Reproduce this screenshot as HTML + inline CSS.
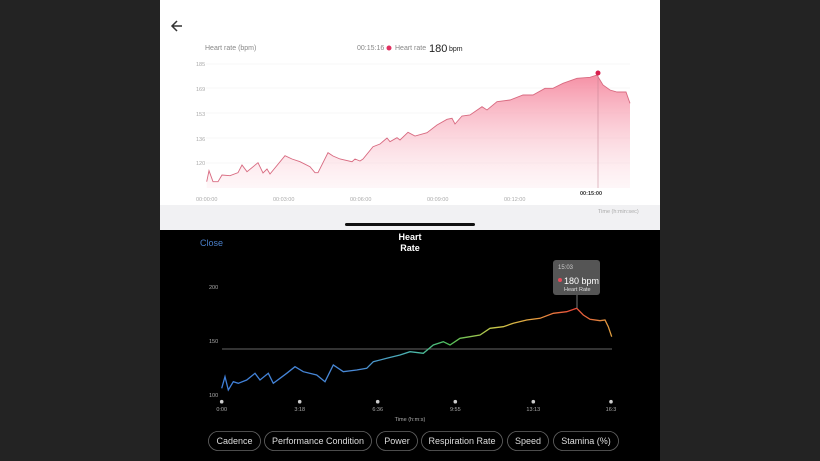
<!DOCTYPE html>
<html><head><meta charset="utf-8"><style>
html,body{margin:0;padding:0;background:#222;}
svg{display:block;font-family:"Liberation Sans",sans-serif;}
</style></head><body>
<svg width="820" height="461" viewBox="0 0 820 461" xmlns="http://www.w3.org/2000/svg">
<defs>
<linearGradient id="fillg" x1="0" y1="0" x2="0" y2="1">
<stop offset="0" stop-color="#f58aa0" stop-opacity="0.95"/>
<stop offset="1" stop-color="#fde3e8" stop-opacity="0.3"/>
</linearGradient>
<linearGradient id="lineg" gradientUnits="userSpaceOnUse" x1="222" y1="0" x2="612" y2="0">
<stop offset="0" stop-color="#3f7fd8"/>
<stop offset="0.35" stop-color="#4a8ad6"/>
<stop offset="0.5" stop-color="#4bb9a8"/>
<stop offset="0.58" stop-color="#4fbf5a"/>
<stop offset="0.7" stop-color="#c8c84a"/>
<stop offset="0.8" stop-color="#e8a040"/>
<stop offset="0.9" stop-color="#e84a3a"/>
<stop offset="1" stop-color="#e0a040"/>
</linearGradient>
</defs>
<rect width="820" height="461" fill="#232323"/>
<!-- top white panel -->
<rect x="160" y="0" width="500" height="230" fill="#fff"/>
<rect x="160" y="205" width="500" height="25" fill="#f1f1f3"/>
<rect x="345" y="223" width="130" height="3" rx="1.5" fill="#111"/>
<path d="M182 26 H172 M177 21 L172 26 L177 31" stroke="#333" stroke-width="1.5" fill="none"/>
<text x="205" y="50" font-size="7" fill="#888">Heart rate (bpm)</text>
<text x="357" y="50" font-size="7" fill="#888">00:15:16</text>
<circle cx="389" cy="48" r="2.5" fill="#e03060"/>
<text x="395" y="50" font-size="7" fill="#888">Heart rate</text>
<text x="429" y="52" font-size="11" fill="#222">180</text>
<text x="449" y="51" font-size="7" fill="#222">bpm</text>
<g stroke="#f0f0f0" stroke-width="0.6">
<line x1="206" y1="64" x2="630" y2="64"/><line x1="206" y1="88" x2="630" y2="88"/>
<line x1="206" y1="113" x2="630" y2="113"/><line x1="206" y1="138" x2="630" y2="138"/>
<line x1="206" y1="163" x2="630" y2="163"/>
</g>
<g font-size="5.5" fill="#aaa">
<text x="196" y="66">185</text><text x="196" y="91">169</text><text x="196" y="116">153</text>
<text x="196" y="141">136</text><text x="196" y="165">120</text>
<text x="196" y="201">00:00:00</text><text x="273" y="201">00:03:00</text><text x="350" y="201">00:06:00</text>
<text x="427" y="201">00:09:00</text><text x="504" y="201">00:12:00</text>
<text x="598" y="213">Time (h:min:sec)</text>
</g>
<text x="580" y="195" font-size="5.5" fill="#333" font-weight="bold">00:15:00</text>
<path d="M206.7,188 L206.7,181.7 209,170.7 213,181.7 218,181.7 222,175 230,175.7 238,172.7 242,165 247,171.7 258,162.7 263,173 267,169 270,174 285,155.7 292,159 300,161.7 310,166.7 315,172.7 318,172.7 328,152.7 333,156 340,159 352,161.7 355,159 360,161 363,159 373,146.7 380,144 387,138 390,141.7 397,137.7 400,140 408,132.3 415,136 427,132.7 437,125 447,119.3 452,118.3 455,124 462,116 470,115 482,106.7 487,110 497,101.7 510,100 523,95 533,95 545,88.3 553,88.3 563,83.3 577,78.3 590,77.3 597,75 603,85 610,90 617,92 626,92 630,103.3 L630,188 Z" fill="url(#fillg)"/>
<polyline points="206.7,181.7 209,170.7 213,181.7 218,181.7 222,175 230,175.7 238,172.7 242,165 247,171.7 258,162.7 263,173 267,169 270,174 285,155.7 292,159 300,161.7 310,166.7 315,172.7 318,172.7 328,152.7 333,156 340,159 352,161.7 355,159 360,161 363,159 373,146.7 380,144 387,138 390,141.7 397,137.7 400,140 408,132.3 415,136 427,132.7 437,125 447,119.3 452,118.3 455,124 462,116 470,115 482,106.7 487,110 497,101.7 510,100 523,95 533,95 545,88.3 553,88.3 563,83.3 577,78.3 590,77.3 597,75 603,85 610,90 617,92 626,92 630,103.3" fill="none" stroke="#d86a80" stroke-width="0.9"/>
<line x1="598" y1="75" x2="598" y2="188" stroke="#c08090" stroke-width="0.5"/>
<circle cx="598" cy="73" r="2.5" fill="#d8204e"/>
<!-- bottom black panel -->
<rect x="160" y="230" width="500" height="231" fill="#000"/>
<text x="200" y="246" font-size="9" fill="#4a7fc8">Close</text>
<text x="410" y="240" font-size="9" fill="#fff" font-weight="bold" text-anchor="middle">Heart</text>
<text x="410" y="251" font-size="9" fill="#fff" font-weight="bold" text-anchor="middle">Rate</text>
<g font-size="5.5" fill="#aaa">
<text x="209" y="289">200</text><text x="209" y="343">150</text><text x="209" y="397">100</text>
</g>
<line x1="222" y1="349" x2="612" y2="349" stroke="#888" stroke-width="0.7"/>
<polyline points="221.7,388.3 225,376.7 228.3,390 233.3,381.7 238.3,383.3 246.7,380 255,373.3 260,380 268.3,373.3 273.3,383.3 280,378.3 286.7,373.3 295,366.7 303.3,371.7 316.7,375 325,381.7 333.3,365 343.3,371.7 356.7,370 366.7,368.3 373.3,361.7 386.7,358.3 400,355 410,351.7 423.3,353.3 433.3,345 443.3,341.7 450,345 460,338.3 470,336.7 480,335 490,328.3 503.3,326.7 513.3,323.3 526.7,320 540,318.3 553.3,313.3 566.7,311.7 576.7,308.3 583.3,315 590,319.3 600,320.7 605,320 608.3,326.7 611.7,336.7" fill="none" stroke="url(#lineg)" stroke-width="1.3"/>
<line x1="577" y1="295" x2="577" y2="308" stroke="#777" stroke-width="1"/>
<rect x="553" y="260" width="47" height="35" rx="3" fill="#555"/>
<text x="558" y="269" font-size="6" fill="#ccc">15:03</text>
<circle cx="560" cy="280" r="2" fill="#e84a5a"/>
<text x="564" y="284" font-size="9" fill="#fff">180 bpm</text>
<text x="564" y="291" font-size="5.5" fill="#ddd">Heart Rate</text>
<g fill="#ccc"><circle cx="221.7" cy="401.7" r="1.8"/><circle cx="299.7" cy="401.7" r="1.8"/><circle cx="377.7" cy="401.7" r="1.8"/><circle cx="455.3" cy="401.7" r="1.8"/><circle cx="533.3" cy="401.7" r="1.8"/><circle cx="611" cy="401.7" r="1.8"/></g>
<g font-size="5.5" fill="#aaa" text-anchor="middle">
<text x="221.7" y="411">0:00</text><text x="299.7" y="411">3:18</text><text x="377.7" y="411">6:36</text>
<text x="455.3" y="411">9:55</text><text x="533.3" y="411">13:13</text><text x="611" y="411">16:3</text>
<text x="410" y="421">Time (h:m:s)</text>
</g>
<g fill="none" stroke="#666" stroke-width="0.8">
<rect x="208.5" y="431.5" width="52" height="19" rx="9.5"/>
<rect x="264.5" y="431.5" width="107" height="19" rx="9.5"/>
<rect x="376.5" y="431.5" width="41" height="19" rx="9.5"/>
<rect x="421.5" y="431.5" width="81" height="19" rx="9.5"/>
<rect x="507.5" y="431.5" width="41" height="19" rx="9.5"/>
<rect x="553.5" y="431.5" width="65" height="19" rx="9.5"/>
</g>
<g font-size="9" fill="#ddd" text-anchor="middle">
<text x="234.5" y="444">Cadence</text><text x="318" y="444">Performance Condition</text>
<text x="397" y="444">Power</text><text x="462" y="444">Respiration Rate</text>
<text x="528" y="444">Speed</text><text x="586" y="444">Stamina (%)</text>
</g>
</svg>
</body></html>
